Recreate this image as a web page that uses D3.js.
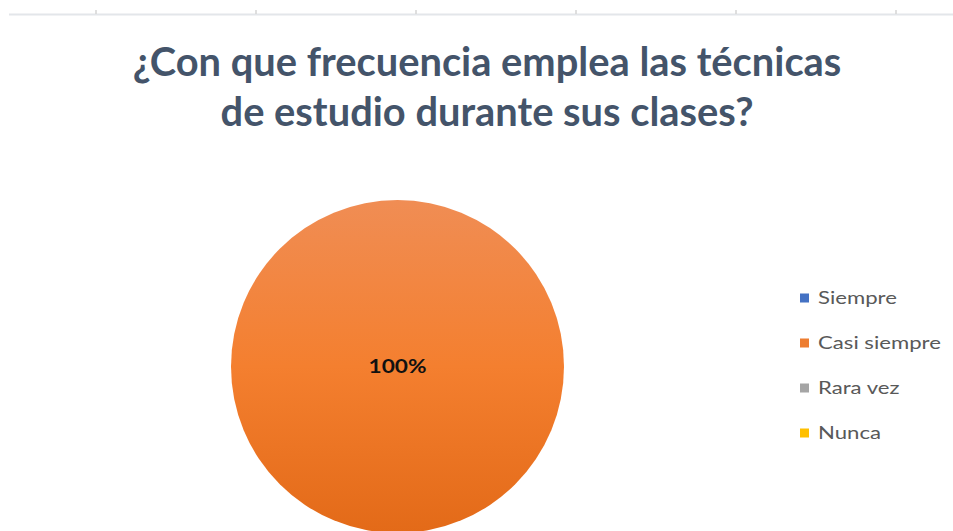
<!DOCTYPE html>
<html><head><meta charset="utf-8">
<script src="https://cdn.jsdelivr.net/npm/d3@7"></script>
<style>html,body{margin:0;padding:0;background:#fff;}svg{display:block;}</style>
</head><body>
<svg id="c" width="953" height="531"></svg>
<script>
const categories = ["Siempre", "Casi siempre", "Rara vez", "Nunca"];
const values = [0, 100, 0, 0];
const colors = ["#4472C4", "#ED7D31", "#A5A5A5", "#FFC000"];
const titleLines = ["¿Con que frecuencia emplea las técnicas", "de estudio durante sus clases?"];
const topTicks = [96, 256, 416, 576, 736, 896];

const W = 953, H = 531;
const svg = d3.select("#c");
const font = "Lato, 'Open Sans', sans-serif";

// top residual axis line
svg.append("line").attr("x1", 9).attr("x2", W).attr("y1", 14.5).attr("y2", 14.5)
  .attr("stroke", "#e3e6ea").attr("stroke-width", 2);
svg.selectAll("line.tk").data(topTicks).enter().append("line").attr("class","tk")
  .attr("x1", d => d).attr("x2", d => d).attr("y1", 10).attr("y2", 14)
  .attr("stroke", "#d4d4d4").attr("stroke-width", 1.5);

// title
const tt = svg.selectAll("text.title").data(titleLines).enter().append("text").attr("class","title")
  .attr("x", 487).attr("y", (d,i) => 76 + i*50)
  .attr("text-anchor", "middle").attr("font-family", font).attr("font-weight", 700)
  .attr("font-size", 33).attr("fill", "#44546A").text(d => d);
const w0 = tt.nodes()[0].getComputedTextLength();
tt.attr("font-size", 33 * 709 / w0);

// gradient
const defs = svg.append("defs");
const g = defs.append("linearGradient").attr("id","og").attr("x1",0).attr("y1",0).attr("x2",0).attr("y2",1);
g.append("stop").attr("offset","0%").attr("stop-color","#F08D54");
g.append("stop").attr("offset","50%").attr("stop-color","#F47F2F");
g.append("stop").attr("offset","100%").attr("stop-color","#E36A18");

const cx = 397.5, cy = 366.5, r = 166.5;
const pie = d3.pie().sort(null).value(d => d.v);
const arcs = pie(categories.map((c,i) => ({c, v: values[i], col: colors[i]})));
const arc = d3.arc().innerRadius(0).outerRadius(r);
const pg = svg.append("g").attr("transform", `translate(${cx},${cy})`);
pg.selectAll("path").data(arcs.filter(d => d.data.v > 0)).enter().append("path")
  .attr("d", arc).attr("fill", d => d.data.c === "Casi siempre" ? "url(#og)" : d.data.col);
const total = d3.sum(values);
const lbl = pg.selectAll("g.lbl").data(arcs.filter(d => d.data.v > 0)).enter().append("g").attr("class","lbl")
  .attr("transform", d => (d.endAngle - d.startAngle) >= 2*Math.PI - 1e-6 ? "translate(0,0)" : `translate(${d3.arc().innerRadius(r*0.6).outerRadius(r*0.6).centroid(d)})`);
const lt = lbl.append("text")
  .attr("text-anchor","middle").attr("dy","0.35em")
  .attr("font-family", font).attr("font-weight", 700).attr("font-size", 18.5).attr("fill", "#111")
  .text(d => Math.round(d.data.v / total * 100) + "%");
lt.each(function(){ const w = this.getComputedTextLength(); d3.select(this).attr("transform", `scale(${58/w},1)`); });

// legend
const lg = svg.append("g");
const rows = lg.selectAll("g").data(categories).enter().append("g")
  .attr("transform", (d,i) => `translate(800,${298 + i*45})`);
rows.append("rect").attr("x", 0).attr("y", -4.5).attr("width", 9).attr("height", 9)
  .attr("fill", (d,i) => colors[i]);
const ltx = rows.append("text").attr("x", 0).attr("dy", "0.35em")
  .attr("font-family", font).attr("font-size", 18).attr("fill", "#595959").text(d => d);
const wRef = ltx.nodes()[1].getComputedTextLength();
const sx = 123 / wRef;
ltx.attr("transform", `translate(18,0) scale(${sx},1)`);
</script>
</body></html>
